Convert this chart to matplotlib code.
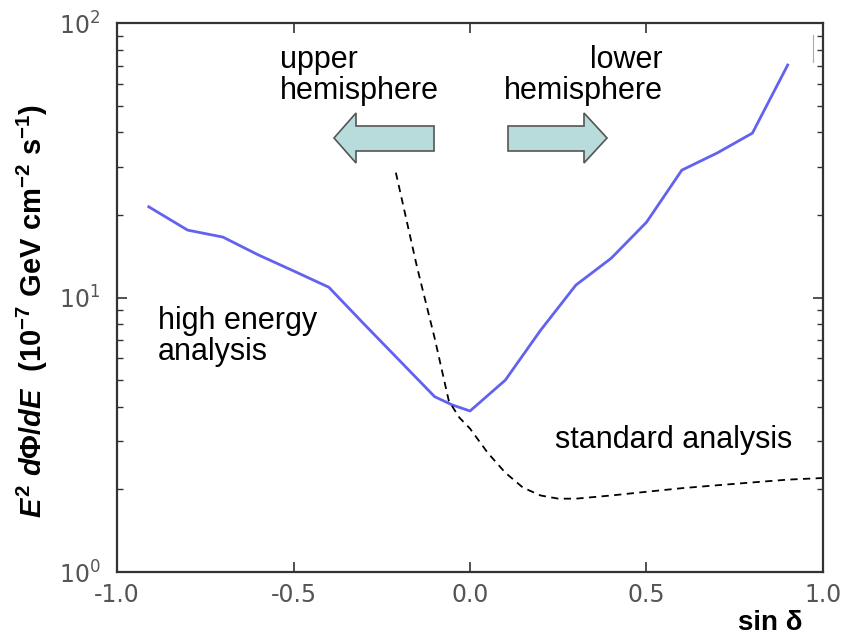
import numpy as np
import matplotlib
matplotlib.use("Agg")
from matplotlib import pyplot as plt
from matplotlib.patches import Polygon

## Dati

# curva blu (high energy analysis)
sin_he = [-0.91, -0.80, -0.70, -0.60, -0.50, -0.40, -0.30, -0.20, -0.10, -0.05, 0.00,
          0.10, 0.20, 0.30, 0.40, 0.50, 0.60, 0.70, 0.80, 0.90]
flux_he = [21.4, 17.6, 16.6, 14.3, 12.5, 10.9, 8.0, 5.9, 4.35, 4.06, 3.86,
           5.0, 7.6, 11.1, 13.9, 18.8, 29.1, 33.6, 39.7, 70.3]

# curva tratteggiata (standard analysis)
sin_std = [-0.21, -0.15, -0.10, -0.06, -0.03, 0.00, 0.05, 0.10, 0.15, 0.20, 0.25, 0.30,
           0.40, 0.50, 0.60, 0.70, 0.80, 0.90, 1.00]
flux_std = [28.5, 12.9, 7.1, 4.2, 3.65, 3.33, 2.72, 2.3, 2.03, 1.9, 1.85, 1.85,
            1.90, 1.96, 2.02, 2.07, 2.12, 2.17, 2.20]

x_ticks = [-1.0, -0.5, 0.0, 0.5, 1.0]

## Stile

plt.rcParams['mathtext.fontset'] = 'custom'
plt.rcParams['mathtext.rm'] = 'Liberation Sans:bold'
plt.rcParams['mathtext.it'] = 'Liberation Sans:italic:bold'
plt.rcParams['mathtext.bf'] = 'Liberation Sans:bold'

fig = plt.figure(figsize=(8.45, 6.36), dpi=100)
ax = fig.add_axes([117/845, 1 - 572/636, 706/845, 549/636])

ax.plot(sin_he, flux_he, color='#6262f0', lw=2.0)
ax.plot(sin_std, flux_std, color='black', lw=1.3, ls=(0, (4, 3)))

ax.set_yscale('log')
ax.set_xlim(-1, 1)
ax.set_ylim(1, 100)
ax.set_xticks(x_ticks)
ax.set_xticklabels([f"{v:.1f}" for v in x_ticks])
ax.set_yticks([1, 10, 100])
ax.set_yticklabels([r"$\mathregular{10^{0}}$", r"$\mathregular{10^{1}}$", r"$\mathregular{10^{2}}$"])

for s in ax.spines.values():
    s.set_linewidth(1.6)
    s.set_color('#333333')

ax.tick_params(which='both', direction='in', top=True, right=True,
               colors='#333333', labelcolor='#555555')
ax.tick_params(which='major', length=7, width=1.2, labelsize=17)
ax.tick_params(axis='x', which='major', pad=8)
ax.tick_params(axis='y', which='major', pad=12)
ax.tick_params(which='minor', length=4, width=1.0)
for lab in ax.get_xticklabels() + ax.get_yticklabels():
    lab.set_family('DejaVu Sans')

## Etichette assi

ax.set_ylabel(r"$E^2\ d\mathit{\Phi}/dE\ \ (10^{-7}\ \mathrm{GeV\ cm^{-2}\ s^{-1}})$",
              fontsize=21)
ax.yaxis.set_label_coords(-0.095, 0.475)
ax.set_xlabel("sin δ", family='Liberation Sans', weight='bold', fontsize=20, va='center')
ax.xaxis.set_label_coords(0.925, -0.093)

## Testi

txt = dict(family='Liberation Sans', fontsize=22, color='black', transform=ax.transAxes)
ax.text((280-117)/706, (572-45)/549, "upper\nhemisphere", ha='left', va='top',
        linespacing=1.05, **txt)
ax.text((663-117)/706, (572-45)/549, "lower\nhemisphere", ha='right', va='top',
        linespacing=1.05, **txt)
ax.text((158-117)/706, (572-306)/549, "high energy\nanalysis", ha='left', va='top',
        linespacing=1.05, **txt)
ax.text((555-117)/706, (572-440)/549, "standard analysis", ha='left', va='center', **txt)

## Frecce

def px(x, y):
    return ((x - 117) / 706, (572 - y) / 549)

freccia_sx = [px(434, 126), px(356, 126), px(356, 113), px(334, 138),
              px(356, 163), px(356, 151), px(434, 151)]
freccia_dx = [px(508, 126), px(584, 126), px(584, 113), px(607, 138),
              px(584, 163), px(584, 151), px(508, 151)]
for f in (freccia_sx, freccia_dx):
    ax.add_patch(Polygon(f, closed=True, transform=ax.transAxes,
                         facecolor='#b8dcdc', edgecolor='#555555', lw=1.2))

# piccolo segno grigio in alto a destra
ax.plot([px(813, 35)[0]] * 2, [px(813, 35)[1], px(813, 62)[1]], color='#aaaaaa',
        lw=0.8, transform=ax.transAxes)

plt.savefig("out.png", dpi=100)
